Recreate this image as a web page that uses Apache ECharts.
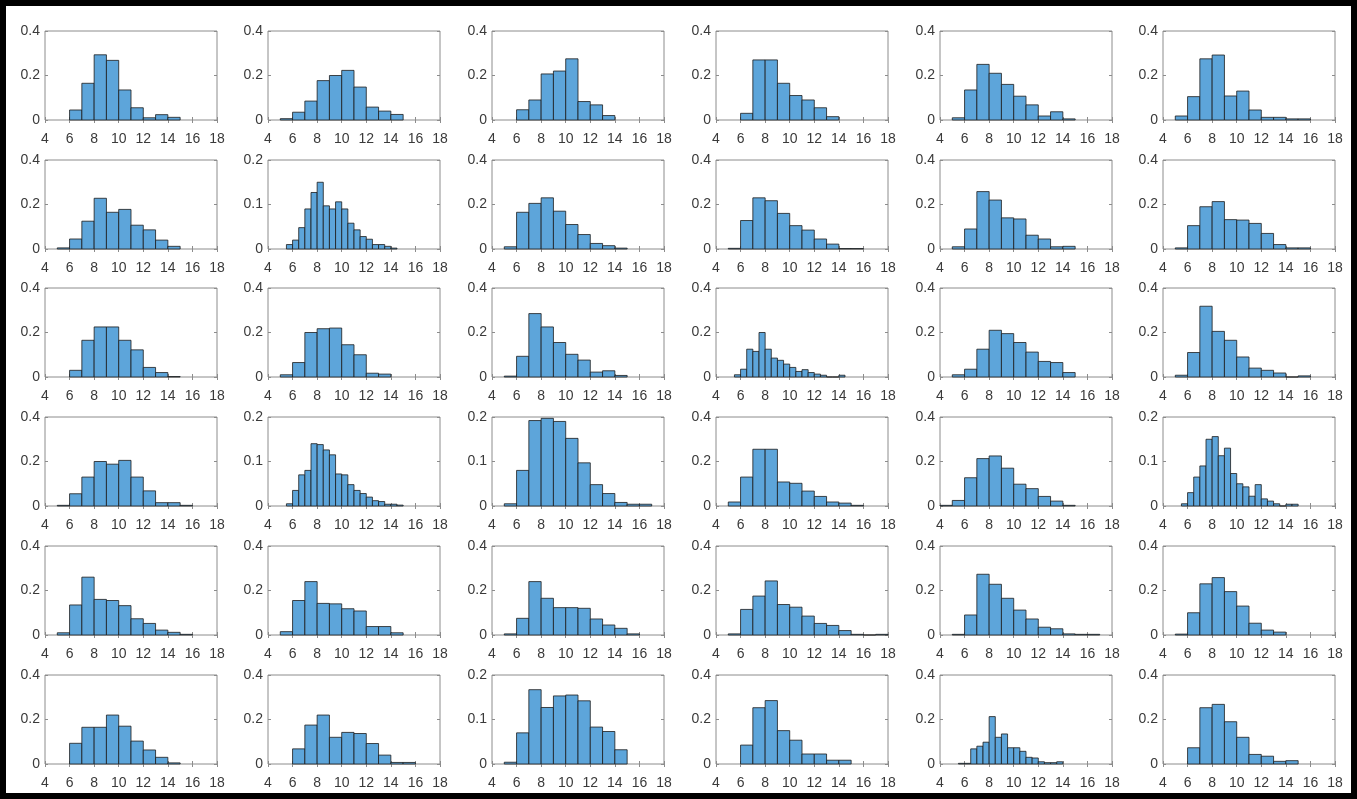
<!DOCTYPE html>
<html><head><meta charset="utf-8">
<script src="https://cdn.jsdelivr.net/npm/echarts@6/dist/echarts.min.js"></script>
<style>html,body{margin:0;padding:0;background:#fff}#c{width:1357px;height:799px}</style>
</head><body><div id="c"></div>
<script>
// x tick labels shared by every panel
const xTicks = [4, 6, 8, 10, 12, 14, 16, 18];

// bin heights (probability) per panel, row by row
const p01 = [0.045, 0.165, 0.293, 0.268, 0.135, 0.055, 0.010, 0.024, 0.012];
const p02 = [0.006, 0.035, 0.085, 0.177, 0.200, 0.223, 0.148, 0.058, 0.040, 0.025];
const p03 = [0.046, 0.090, 0.207, 0.220, 0.275, 0.083, 0.068, 0.020];
const p04 = [0.030, 0.270, 0.270, 0.165, 0.110, 0.090, 0.055, 0.015];
const p05 = [0.010, 0.135, 0.250, 0.210, 0.160, 0.107, 0.068, 0.018, 0.037, 0.005];
const p06 = [0.018, 0.105, 0.275, 0.292, 0.108, 0.130, 0.045, 0.012, 0.012, 0.005, 0.005];

const p07 = [0.005, 0.045, 0.125, 0.228, 0.165, 0.178, 0.107, 0.086, 0.040, 0.012];
const p08 = [0.010, 0.020, 0.048, 0.090, 0.127, 0.150, 0.097, 0.090, 0.106, 0.090, 0.058, 0.043, 0.028, 0.022, 0.010, 0.010, 0.006, 0.002];
const p09 = [0.010, 0.165, 0.205, 0.230, 0.170, 0.110, 0.065, 0.025, 0.015, 0.004];
const p10 = [0.003, 0.128, 0.230, 0.217, 0.160, 0.105, 0.085, 0.045, 0.022, 0.002, 0.002];
const p11 = [0.010, 0.090, 0.258, 0.220, 0.140, 0.135, 0.062, 0.045, 0.010, 0.012];
const p12 = [0.005, 0.105, 0.190, 0.213, 0.132, 0.130, 0.115, 0.070, 0.020, 0.005, 0.005];

const p13 = [0.030, 0.165, 0.225, 0.225, 0.165, 0.122, 0.043, 0.020, 0.002];
const p14 = [0.010, 0.065, 0.200, 0.217, 0.220, 0.145, 0.100, 0.017, 0.013];
const p15 = [0.004, 0.093, 0.285, 0.225, 0.155, 0.102, 0.076, 0.022, 0.028, 0.007];
const p16 = [0.010, 0.035, 0.125, 0.115, 0.200, 0.125, 0.085, 0.075, 0.058, 0.043, 0.025, 0.033, 0.020, 0.013, 0.008, 0.000, 0.000, 0.008];
const p17 = [0.010, 0.035, 0.125, 0.210, 0.195, 0.155, 0.112, 0.070, 0.065, 0.020];
const p18 = [0.008, 0.110, 0.318, 0.205, 0.165, 0.090, 0.040, 0.030, 0.018, 0.000, 0.005];

const p19 = [0.003, 0.055, 0.130, 0.200, 0.188, 0.205, 0.130, 0.068, 0.015, 0.015, 0.003];
const p20 = [0.005, 0.035, 0.070, 0.080, 0.140, 0.138, 0.126, 0.115, 0.072, 0.070, 0.048, 0.035, 0.028, 0.020, 0.012, 0.010, 0.004, 0.004, 0.002];
const p21 = [0.005, 0.080, 0.192, 0.197, 0.190, 0.152, 0.097, 0.048, 0.028, 0.008, 0.004, 0.004];
const p22 = [0.018, 0.130, 0.255, 0.255, 0.108, 0.102, 0.067, 0.043, 0.018, 0.013, 0.003];
const p23 = [0.003, 0.025, 0.127, 0.213, 0.225, 0.170, 0.098, 0.078, 0.043, 0.022, 0.003];
const p24 = [0.005, 0.030, 0.065, 0.090, 0.150, 0.156, 0.113, 0.130, 0.073, 0.050, 0.043, 0.022, 0.048, 0.016, 0.011, 0.005, 0.000, 0.004, 0.004];

const p25 = [0.010, 0.135, 0.260, 0.160, 0.155, 0.132, 0.073, 0.052, 0.022, 0.012, 0.003];
const p26 = [0.015, 0.155, 0.240, 0.142, 0.140, 0.118, 0.108, 0.038, 0.038, 0.010];
const p27 = [0.005, 0.075, 0.240, 0.165, 0.123, 0.123, 0.120, 0.072, 0.045, 0.030, 0.005];
const p28 = [0.005, 0.115, 0.175, 0.243, 0.137, 0.125, 0.085, 0.052, 0.043, 0.020, 0.003, 0.000, 0.003];
const p29 = [0.003, 0.090, 0.273, 0.228, 0.165, 0.112, 0.072, 0.035, 0.028, 0.005, 0.003, 0.003];
const p30 = [0.004, 0.100, 0.230, 0.258, 0.195, 0.130, 0.053, 0.022, 0.013];

const p31 = [0.093, 0.165, 0.165, 0.220, 0.170, 0.103, 0.063, 0.030, 0.005];
const p32 = [0.068, 0.175, 0.220, 0.120, 0.142, 0.137, 0.092, 0.040, 0.007, 0.007];
const p33 = [0.004, 0.070, 0.167, 0.127, 0.153, 0.155, 0.142, 0.083, 0.073, 0.032];
const p34 = [0.085, 0.253, 0.285, 0.150, 0.107, 0.045, 0.045, 0.017, 0.017];
const p35 = [0.003, 0.003, 0.068, 0.080, 0.098, 0.213, 0.120, 0.135, 0.073, 0.073, 0.057, 0.030, 0.027, 0.010, 0.006, 0.006, 0.010];
const p36 = [0.073, 0.253, 0.268, 0.190, 0.120, 0.043, 0.035, 0.012, 0.015];

// first bin edge, bin width and y-axis maximum for each panel
const binStart = [6, 5, 6, 6, 5, 5,   5, 5.5, 5, 5, 5, 5,   6, 5, 5, 5.5, 5, 5,   5, 5.5, 5, 5, 4, 5.5,   5, 5, 5, 5, 5, 5,   6, 6, 5, 6, 5.5, 6];
const binWidth = [1, 1, 1, 1, 1, 1,   1, 0.5, 1, 1, 1, 1,   1, 1, 1, 0.5, 1, 1,   1, 0.5, 1, 1, 1, 0.5,   1, 1, 1, 1, 1, 1,   1, 1, 1, 1, 0.5, 1];
const yMax = [0.4, 0.4, 0.4, 0.4, 0.4, 0.4,   0.4, 0.2, 0.4, 0.4, 0.4, 0.4,   0.4, 0.4, 0.4, 0.4, 0.4, 0.4,   0.4, 0.2, 0.2, 0.4, 0.4, 0.2,   0.4, 0.4, 0.4, 0.4, 0.4, 0.4,   0.4, 0.4, 0.2, 0.4, 0.4, 0.4];

const panels = [p01,p02,p03,p04,p05,p06,p07,p08,p09,p10,p11,p12,p13,p14,p15,p16,p17,p18,
                p19,p20,p21,p22,p23,p24,p25,p26,p27,p28,p29,p30,p31,p32,p33,p34,p35,p36];

const colLeft = [45, 268, 492, 716, 940, 1163];
const rowTop = [31, 160, 288, 417, 546, 675];
const PW = 172, PH = 89;
const BOX = '#8c8c8c', TXT = '#3a3a3a', FONT = 'Liberation Sans, Arial, sans-serif';

const grid = [], xAxis = [], yAxis = [], series = [];
panels.forEach((h, i) => {
  const r = Math.floor(i / 6), c = i % 6;
  grid.push({left: colLeft[c], top: rowTop[r], width: PW, height: PH, show: true,
    borderColor: BOX, borderWidth: 1, backgroundColor: '#fff', containLabel: false});
  const xCommon = {type: 'value', gridIndex: i, min: xTicks[0], max: xTicks[xTicks.length - 1], interval: 2,
    splitLine: {show: false}, axisLine: {show: false},
    axisTick: {show: true, inside: true, length: 3, lineStyle: {color: BOX}}};
  xAxis.push(Object.assign({}, xCommon, {position: 'bottom',
    axisLabel: {show: true, fontSize: 14, color: TXT, margin: 12, fontFamily: FONT}}));
  xAxis.push(Object.assign({}, xCommon, {position: 'top', axisLabel: {show: false}}));
  const yCommon = {type: 'value', gridIndex: i, min: 0, max: yMax[i], interval: yMax[i] / 2,
    splitLine: {show: false}, axisLine: {show: false},
    axisTick: {show: true, inside: true, length: 3, lineStyle: {color: BOX}}};
  yAxis.push(Object.assign({}, yCommon, {position: 'left',
    axisLabel: {show: true, fontSize: 14, color: TXT, margin: 5, fontFamily: FONT,
      formatter: v => (Math.round(v * 10) / 10).toString()}}));
  yAxis.push(Object.assign({}, yCommon, {position: 'right', axisLabel: {show: false}}));
  const data = h.map((v, k) => [binStart[i] + k * binWidth[i], binStart[i] + (k + 1) * binWidth[i], v]);
  series.push({type: 'custom', xAxisIndex: 2 * i, yAxisIndex: 2 * i, data: data, clip: false,
    encode: {x: [0, 1], y: 2}, z: 3,
    renderItem: (params, api) => {
      const a = api.coord([api.value(0), api.value(2)]);
      const b = api.coord([api.value(1), 0]);
      return {type: 'rect', shape: {x: a[0], y: a[1], width: b[0] - a[0], height: b[1] - a[1]},
        style: {fill: '#5da5da', stroke: '#1c1c1c', lineWidth: 0.8}};
    }});
});

const chart = echarts.init(document.getElementById('c'), null, {renderer: 'canvas'});
chart.setOption({
  animation: false,
  backgroundColor: '#fff',
  grid, xAxis, yAxis, series,
  graphic: [{type: 'rect', z: 100, silent: true,
    shape: {x: 3, y: 3, width: 1351, height: 793},
    style: {fill: 'none', stroke: '#000', lineWidth: 6}}]
});
</script></body></html>
